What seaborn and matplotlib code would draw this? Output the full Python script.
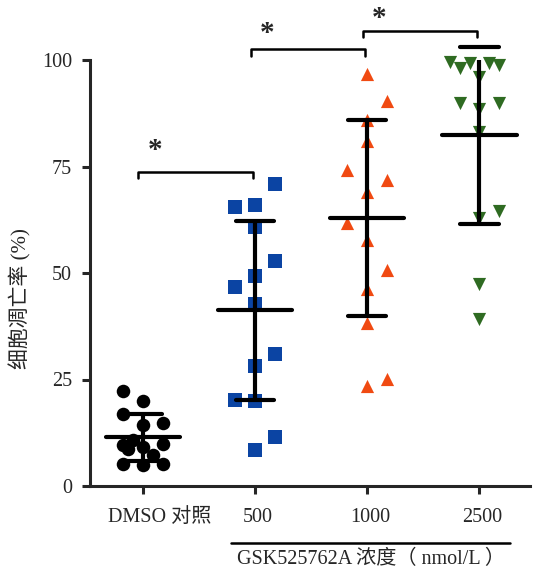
import numpy as np
import pandas as pd
import matplotlib
matplotlib.use('Agg')
import matplotlib.pyplot as plt
import matplotlib.transforms as mtransforms
import seaborn as sns

# groups and styling per group
groups = ['DMSO 对照', '500', '1000', '2500']
colors = ['#000000', '#0B44A3', '#F04A12', '#2F6B22']
markers = ['o', 's', '^', 'v']
sizes = [95, 100, 90, 90]

# apoptosis rate (%), with the column (lane) each dot sits in
dmso_vals = [22.2, 19.9, 16.8, 14.4, 14.7, 9.7, 10.9, 9.2, 9.9, 7.3, 5.2, 5.0, 5.2, 8.7]
dmso_lane = [-1, 0, -1, 0, 1, -1, -0.5, 0, 1, 0.5, -1, 0, 1, -0.75]
g500_vals = [70.9, 65.5, 66.0, 60.8, 52.7, 49.2, 46.6, 42.8, 31.0, 28.1, 20.3, 19.9, 11.6, 8.5]
g500_lane = [1, -1, 0, 0, 1, 0, -1, 0, 1, 0, -1, 0, 1, 0]
g1000_vals = [96.7, 90.3, 86.0, 80.9, 74.2, 71.9, 69.0, 61.7, 57.7, 50.8, 46.3, 38.3, 25.1, 23.4]
g1000_lane = [0, 1, 0, 0, -1, 1, 0, -1, 0, 1, 0, 0, 1, 0]
g2500_vals = [99.6, 98.1, 99.3, 99.3, 98.8, 96.0, 90.0, 89.8, 88.4, 83.0, 64.5, 62.9, 47.5, 39.2]
g2500_lane = [-1.5, -1, -0.5, 0.5, 1, 0, -1, 1, 0, 0, 1, 0, 0, 0]

# mean and SD bars
means = [11.4, 41.2, 62.8, 82.3]
sds = [5.6, 21.0, 23.0, 20.7]

# significance brackets
pairs = [(0, 1), (1, 2), (2, 3)]
bracket_y = [73.8, 102.6, 106.9]
star_y = [78.8, 106.3, 109.8]
sig_labels = ['*', '*', '*']

all_vals = [dmso_vals, g500_vals, g1000_vals, g2500_vals]
all_lanes = [dmso_lane, g500_lane, g1000_lane, g2500_lane]

rows = []
for i, g in enumerate(groups):
    for v, l in zip(all_vals[i], all_lanes[i]):
        rows.append({'group': g, 'pos': i, 'lane': l, 'value': v})
df = pd.DataFrame(rows)
lane_w = 0.178
df['x'] = df['pos'] + df['lane'] * lane_w

sns.set_theme(style='ticks')
plt.rcParams['font.family'] = ['Liberation Serif', 'Noto Sans CJK SC']

fig = plt.figure(figsize=(5.41, 5.71), dpi=100)
ax = fig.add_axes([90 / 541, 85 / 571, 440 / 541, 426 / 571])

for i, g in enumerate(groups):
    sub = df[df['group'] == g]
    sns.scatterplot(data=sub, x='x', y='value', ax=ax, color=colors[i], marker=markers[i],
                    s=sizes[i], linewidth=0, clip_on=False, zorder=2, legend=False)

# mean line + SD error bars
for i in range(len(groups)):
    m, s = means[i], sds[i]
    ax.plot([i, i], [m - s, m + s], color='black', lw=3, zorder=3, solid_capstyle='butt')
    ax.plot([i - 0.33, i + 0.33], [m, m], color='black', lw=3, zorder=3, clip_on=False)
    for yy in (m - s, m + s):
        ax.plot([i - 0.17, i + 0.17], [yy, yy], color='black', lw=3, zorder=3, clip_on=False)

# brackets with stars
for (a, b), yb, ys, lab in zip(pairs, bracket_y, star_y, sig_labels):
    ax.plot([a - 0.04, a - 0.04, b - 0.02, b - 0.02], [yb - 1.6, yb, yb, yb - 1.6],
            color='black', lw=1.8, clip_on=False)
    ax.text(a + 0.11, ys, lab, ha='center', va='center', fontsize=21,
            fontweight='bold', clip_on=False)

ax.set_xlim(-0.47, 3.45)
ax.set_ylim(0, 100)
ax.set_yticks([0, 25, 50, 75, 100])
ax.set_xticks(range(len(groups)))
ax.set_xticklabels(groups)
ax.tick_params(axis='both', width=2.2, length=6, labelsize=14.5, direction='out')
ax.tick_params(axis='x', pad=10)
ax.tick_params(axis='y', pad=7)
for sp in ['left', 'bottom']:
    ax.spines[sp].set_linewidth(2.2)
sns.despine(ax=ax)

# the first label sits a bit right of its tick in the reference
lbl0 = ax.get_xticklabels()[0]
lbl0.set_transform(lbl0.get_transform() + mtransforms.ScaledTranslation(17 / 100, 0, fig.dpi_scale_trans))
for lbl in ax.get_xticklabels()[1:]:
    lbl.set_transform(lbl.get_transform() + mtransforms.ScaledTranslation(3 / 100, 0, fig.dpi_scale_trans))

ax.set_xlabel('')
ax.set_ylabel('细胞凋亡率 (%)', fontsize=15)
ax.yaxis.set_label_coords(-0.134, 0.44)

# group line under the dose labels
trans = mtransforms.blended_transform_factory(ax.transData, ax.transAxes)
ax.plot([0.79, 3.27], [-0.134, -0.134], color='black', lw=1.8, transform=trans, clip_on=False)
ax.text(2.03, -0.172, 'GSK525762A 浓度（ nmol/L ）', ha='center', va='center',
        fontsize=14.5, transform=trans)

fig.savefig('out.png', dpi=100)
